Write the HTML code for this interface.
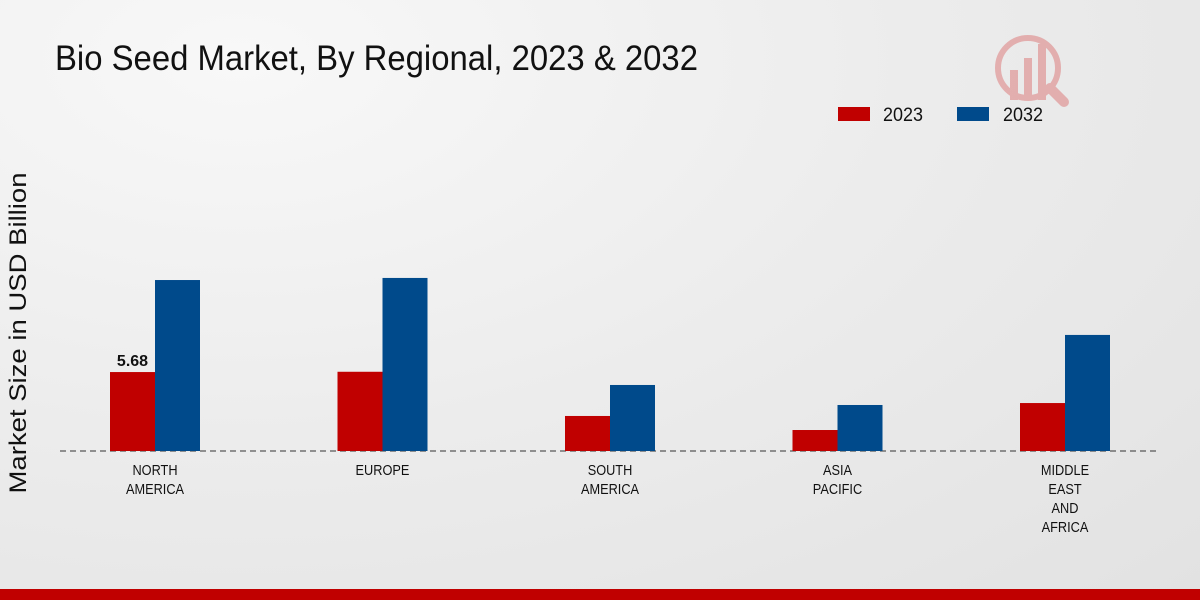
<!DOCTYPE html>
<html><head><meta charset="utf-8"><style>
html,body{margin:0;padding:0;}
body{width:1200px;height:600px;overflow:hidden;background:radial-gradient(ellipse at 20% 10%,#f8f8f8 0%,#ececec 50%,#e2e2e2 100%);font-family:"Liberation Sans",sans-serif;position:relative;}
svg{position:absolute;left:0;top:0;}
</style></head><body>
<svg width="1200" height="600">
<text x="55" y="70" font-size="35" fill="#111" textLength="643" lengthAdjust="spacingAndGlyphs">Bio Seed Market, By Regional, 2023 &amp; 2032</text>
<g opacity="0.25">
<circle cx="1028" cy="68" r="30" fill="none" stroke="#c00" stroke-width="6"/>
<rect x="1010" y="70" width="8" height="30" fill="#c00"/>
<rect x="1024" y="58" width="8" height="42" fill="#c00"/>
<rect x="1038" y="44" width="8" height="56" fill="#c00"/>
<line x1="1050" y1="88" x2="1064" y2="102" stroke="#c00" stroke-width="10" stroke-linecap="round"/>
</g>
<g>
<rect x="838" y="107" width="32" height="14" fill="#c00000"/>
<text x="883" y="121" font-size="19" fill="#111" textLength="40" lengthAdjust="spacingAndGlyphs">2023</text>
<rect x="957" y="107" width="32" height="14" fill="#004a8b"/>
<text x="1003" y="121" font-size="19" fill="#111" textLength="40" lengthAdjust="spacingAndGlyphs">2032</text>
</g>
<text transform="translate(26,333) rotate(-90)" text-anchor="middle" font-size="24" fill="#111" textLength="321" lengthAdjust="spacingAndGlyphs">Market Size in USD Billion</text>
<line x1="60" y1="451" x2="1160" y2="451" stroke="#333" stroke-dasharray="6,4"/>
<g id="bars"></g>
<g id="xlabels"></g>
<rect x="0" y="589" width="1200" height="11" fill="#c00000"/>
</svg>
<script>
const categories=[["NORTH","AMERICA"],["EUROPE"],["SOUTH","AMERICA"],["ASIA","PACIFIC"],["MIDDLE","EAST","AND","AFRICA"]];
const values2023=[5.68,5.7,2.52,1.51,3.45];
const values2032=[12.3,12.45,4.75,3.31,8.35];
const labels2023=["5.68",null,null,null,null];
const NS="http://www.w3.org/2000/svg";
const base=451, scale=13.9, x0=155, step=227.5, bw=45;
const yOf=v=>base-v*scale;
const bars=document.getElementById('bars'), xl=document.getElementById('xlabels');
categories.forEach((c,i)=>{
  const cx=x0+i*step;
  [[values2023[i],cx-bw,'#c00000','2023'],[values2032[i],cx,'#004a8b','2032']].forEach(([v,x,col,s])=>{
    const r=document.createElementNS(NS,'rect');
    r.setAttribute('x',x);r.setAttribute('y',yOf(v));r.setAttribute('width',bw);r.setAttribute('height',base-yOf(v));r.setAttribute('fill',col);
    
    
    bars.appendChild(r);
  });
  if(labels2023[i]){
    const t=document.createElementNS(NS,'text');
    t.setAttribute('x',cx-bw/2);t.setAttribute('y',yOf(values2023[i])-6);t.setAttribute('text-anchor','middle');t.setAttribute('font-size','16');t.setAttribute('font-weight','bold');t.setAttribute('fill','#111');
    t.textContent=labels2023[i];
    
    
    bars.appendChild(t);
  }
  c.forEach((line,j)=>{
    const t=document.createElementNS(NS,'text');
    t.setAttribute('x',cx);t.setAttribute('y',475+j*19);t.setAttribute('text-anchor','middle');t.setAttribute('font-size','15');t.setAttribute('fill','#111');
    t.textContent=line;
    
    
    xl.appendChild(t);
    const w=t.getComputedTextLength();
    t.setAttribute('textLength',(w*0.85).toFixed(1));
    t.setAttribute('lengthAdjust','spacingAndGlyphs');
  });
});
</script>
</body></html>
